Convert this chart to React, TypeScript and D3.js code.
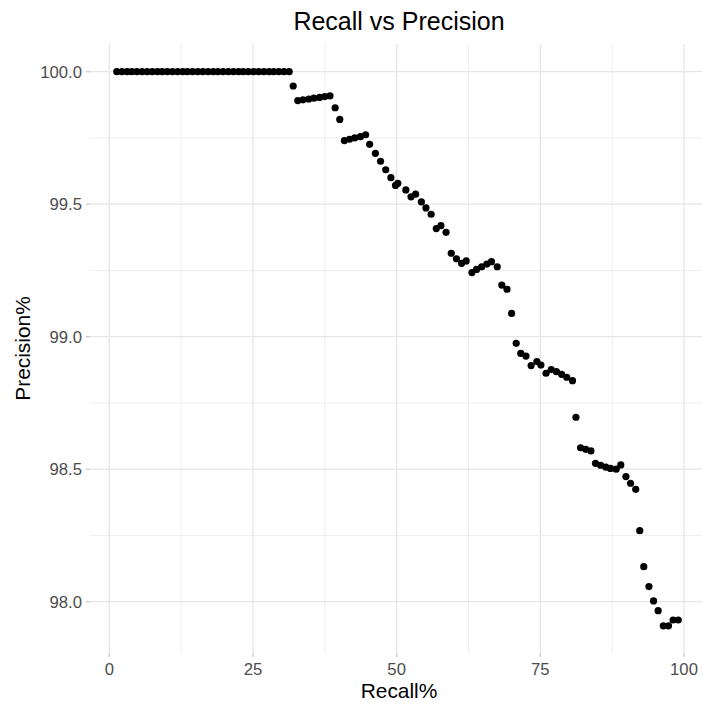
import React, { useEffect, useRef } from 'react';
import * as d3 from 'd3';

// Data
const recall = [
  1.3, 2.2, 3.1, 3.9, 4.8, 5.7, 6.6, 7.5, 8.4, 9.2, 10.1, 11.0, 11.9, 12.8, 13.6, 14.5, 15.4, 16.3,
  17.2, 18.1, 18.9, 19.8, 20.7, 21.6, 22.5, 23.3, 24.2, 25.1, 26.0, 26.9, 27.8, 28.6, 29.5, 30.4, 31.3,
  32.0, 32.8, 33.7, 34.7, 35.6, 36.6, 37.5, 38.4, 39.3, 40.1, 40.9, 41.8, 42.7, 43.7, 44.6,
  45.3, 46.3, 47.2, 48.1, 49.0, 49.8, 50.2, 51.6, 52.5, 53.3, 54.3, 55.1, 56.0, 56.9, 57.7, 58.6,
  59.5, 60.4, 61.3, 62.1, 63.1, 63.9, 64.8, 65.7, 66.5, 67.5, 68.3, 69.2, 70.0, 70.8, 71.6, 72.5,
  73.4, 74.4, 75.1, 76.0, 76.9, 77.8, 78.7, 79.6, 80.6, 81.2, 82.0, 82.9, 83.8, 84.6, 85.5, 86.4,
  87.2, 88.2, 89.0, 89.9, 90.7, 91.6, 92.3, 93.0, 93.9, 94.7, 95.5, 96.4, 97.3, 98.1, 99.0,
];
const precision = [
  100, 100, 100, 100, 100, 100, 100, 100, 100, 100, 100, 100, 100, 100, 100, 100, 100, 100,
  100, 100, 100, 100, 100, 100, 100, 100, 100, 100, 100, 100, 100, 100, 100, 100, 100,
  99.946, 99.891, 99.894, 99.897, 99.9, 99.903, 99.906, 99.909, 99.864, 99.82, 99.74, 99.745, 99.75, 99.755, 99.762,
  99.726, 99.692, 99.662, 99.63, 99.6, 99.571, 99.579, 99.554, 99.528, 99.538, 99.509, 99.486, 99.462, 99.408, 99.419, 99.394,
  99.315, 99.294, 99.277, 99.286, 99.242, 99.254, 99.264, 99.274, 99.283, 99.264, 99.195, 99.179, 99.088, 98.975, 98.937, 98.927,
  98.891, 98.906, 98.893, 98.862, 98.876, 98.868, 98.858, 98.847, 98.834, 98.696, 98.581, 98.575, 98.569, 98.522, 98.515, 98.508,
  98.503, 98.5, 98.516, 98.472, 98.447, 98.424, 98.268, 98.132, 98.057, 98.003, 97.966, 97.909, 97.909, 97.931, 97.931,
];
const xTicks = [0, 25, 50, 75, 100];
const xMinor = [12.5, 37.5, 62.5, 87.5];
const yTicks = [98.0, 98.5, 99.0, 99.5, 100.0];
const yMinor = [98.25, 98.75, 99.25, 99.75];

const FONT = '"Liberation Sans", Arial, Helvetica, sans-serif';

const App = () => {
  const svgRef = useRef<SVGSVGElement>(null);

  useEffect(() => {
    const W = 702;
    const H = 705;
    const panel = { left: 90, right: 710, top: 44, bottom: 653 };

    const svg = d3.select(svgRef.current).attr('width', W).attr('height', H);
    svg.selectAll('*').remove();

    const x = d3.scaleLinear().domain([0, 100]).range([109.3, 684]);
    const y = d3.scaleLinear().domain([98, 100]).range([601.7, 71.7]);

    const grid = svg.append('g');
    // minor grid
    grid.selectAll('.xminor').data(xMinor).enter().append('line')
      .attr('x1', d => x(d)).attr('x2', d => x(d))
      .attr('y1', panel.top).attr('y2', panel.bottom)
      .style('stroke', '#ebebeb').style('stroke-width', 0.8);
    grid.selectAll('.yminor').data(yMinor).enter().append('line')
      .attr('x1', panel.left).attr('x2', panel.right)
      .attr('y1', d => y(d)).attr('y2', d => y(d))
      .style('stroke', '#ebebeb').style('stroke-width', 0.8);
    // major grid
    grid.selectAll('.xmajor').data(xTicks).enter().append('line')
      .attr('x1', d => x(d)).attr('x2', d => x(d))
      .attr('y1', panel.top).attr('y2', panel.bottom)
      .style('stroke', '#e6e6e6').style('stroke-width', 1.3);
    grid.selectAll('.ymajor').data(yTicks).enter().append('line')
      .attr('x1', panel.left).attr('x2', panel.right)
      .attr('y1', d => y(d)).attr('y2', d => y(d))
      .style('stroke', '#e6e6e6').style('stroke-width', 1.3);

    // ticks
    grid.selectAll('.xtick').data(xTicks).enter().append('line')
      .attr('x1', d => x(d)).attr('x2', d => x(d))
      .attr('y1', panel.bottom).attr('y2', panel.bottom + 4)
      .style('stroke', '#cccccc').style('stroke-width', 1.3);
    grid.selectAll('.ytick').data(yTicks).enter().append('line')
      .attr('x1', panel.left - 4).attr('x2', panel.left)
      .attr('y1', d => y(d)).attr('y2', d => y(d))
      .style('stroke', '#cccccc').style('stroke-width', 1.3);

    // tick labels
    svg.selectAll('.xlab').data(xTicks).enter().append('text')
      .attr('x', d => x(d)).attr('y', 675)
      .attr('text-anchor', 'middle')
      .style('font-family', FONT).style('font-size', '16.7px').style('fill', '#4d4d4d')
      .text(d => d3.format('d')(d));
    svg.selectAll('.ylab').data(yTicks).enter().append('text')
      .attr('x', 82).attr('y', d => y(d)).attr('dy', '0.35em')
      .attr('text-anchor', 'end')
      .style('font-family', FONT).style('font-size', '16.7px').style('fill', '#4d4d4d')
      .text(d => d3.format('.1f')(d));

    // points
    svg.append('g').selectAll('circle').data(recall).enter().append('circle')
      .attr('cx', d => x(d))
      .attr('cy', (d, i) => y(precision[i]))
      .attr('r', 3.6)
      .style('fill', '#000');

    // titles
    svg.append('text')
      .attr('x', 399).attr('y', 30)
      .attr('text-anchor', 'middle')
      .style('font-family', FONT).style('font-size', '25px').style('fill', '#000')
      .text('Recall vs Precision');
    svg.append('text')
      .attr('x', 399).attr('y', 698)
      .attr('text-anchor', 'middle')
      .style('font-family', FONT).style('font-size', '20.9px').style('fill', '#000')
      .text('Recall%');
    svg.append('text')
      .attr('transform', `translate(30, ${(panel.top + panel.bottom) / 2}) rotate(-90)`)
      .attr('text-anchor', 'middle')
      .style('font-family', FONT).style('font-size', '20.9px').style('fill', '#000')
      .text('Precision%');
  }, []);

  return (
    <svg ref={svgRef} style={{ position: 'absolute', left: 0, top: 0, background: '#fff' }}></svg>
  );
};

export default App;
